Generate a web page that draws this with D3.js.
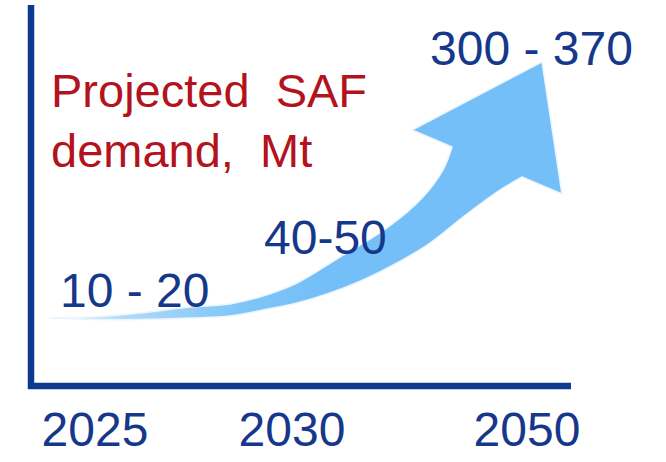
<!DOCTYPE html>
<html>
<head>
<meta charset="utf-8">
<script src="https://cdn.jsdelivr.net/npm/d3@7"></script>
<style>
  html, body { margin: 0; padding: 0; background: #ffffff; }
  svg { display: block; }
  text { font-family: "Liberation Sans", Arial, sans-serif; white-space: pre; }
</style>
</head>
<body>
<div id="chart"></div>
<script>
// ---- data ----
const years = ["2025", "2030", "2050"];
const yearValues = [2025, 2030, 2050];
const demandLabels = ["10 - 20", "40-50", "300 - 370"];
const demandLow = [10, 40, 300];
const demandHigh = [20, 50, 370];
const titleLines = ["Projected  SAF", "demand,  Mt"];

// ---- layout ----
const W = 666, H = 462;
const axisColor = "#0d3a8e";
const textNavy = "#16388a";
const titleRed = "#b3131d";

const svg = d3.select("#chart").append("svg")
  .attr("width", W).attr("height", H);

// year scale (uneven spacing as in the reference)
const x = d3.scaleLinear().domain(yearValues).range([95, 292, 527]);
// label scale for demand midpoints
const mids = demandLow.map((d, i) => (d + demandHigh[i]) / 2);
const yLab = d3.scaleLinear().domain(mids).range([307, 254, 65]);
const labOffset = d3.scaleLinear().domain(yearValues).range([-35, -28, -97]);

// ---- arrow (decorative growth glyph) ----
const defs = svg.append("defs");
const grad = defs.append("linearGradient").attr("id", "arrowGrad")
  .attr("gradientUnits", "userSpaceOnUse")
  .attr("x1", 50).attr("y1", 0).attr("x2", 320).attr("y2", 0);
grad.append("stop").attr("offset", 0).attr("stop-color", "#e3f1fd");
grad.append("stop").attr("offset", 0.3).attr("stop-color", "#acd8fa");
grad.append("stop").attr("offset", 0.7).attr("stop-color", "#80c5f8");
grad.append("stop").attr("offset", 1).attr("stop-color", "#74bff8");

// shape template of the curved arrow (edges of shaft + head)
const shaftUpper = [[50, 318], [100, 316.5], [140, 313], [190, 307], [230, 304], [263, 296], [297, 283], [340, 257], [387, 228], [423, 197], [443, 170], [452, 147]];
const shaftLower = [[522, 177], [497, 192], [463, 217], [430, 243], [397, 263], [363, 280], [330, 293], [297, 303], [263, 310], [230, 316], [190, 318], [140, 319.5], [100, 319.5], [50, 318]];
const headBase = [487, 162];
const tEnd = [0.393, -0.92];           // head axis
const nE = [-tEnd[1], tEnd[0]];        // head base normal
const barbHalf = 81.5, headLen = 113.6, skew = 11.3;
const head = [
  [headBase[0] - nE[0] * barbHalf, headBase[1] - nE[1] * barbHalf],
  [headBase[0] + tEnd[0] * headLen + nE[0] * skew, headBase[1] + tEnd[1] * headLen + nE[1] * skew],
  [headBase[0] + nE[0] * barbHalf, headBase[1] + nE[1] * barbHalf]
];
const edge = d3.line().curve(d3.curveCatmullRom.alpha(0.5));
const dUpper = edge(shaftUpper);
const dLower = edge(shaftLower).replace(/^M/, "L");
const dHead = head.map(p => "L" + p[0] + "," + p[1]).join("");
svg.append("path")
  .attr("d", dUpper + dHead + dLower + "Z")
  .attr("fill", "url(#arrowGrad)")
  .attr("stroke", "#eaf5fe").attr("stroke-width", 1.5).attr("stroke-linejoin", "round");

// ---- axes ----
svg.append("line").attr("x1", 31).attr("y1", 5).attr("x2", 31).attr("y2", 389)
  .attr("stroke", axisColor).attr("stroke-width", 6.5);
svg.append("line").attr("x1", 28).attr("y1", 386).attr("x2", 571).attr("y2", 386)
  .attr("stroke", axisColor).attr("stroke-width", 6.5);

// year labels
svg.selectAll("text.year").data(years).join("text")
  .attr("class", "year")
  .attr("x", (d, i) => x(yearValues[i]))
  .attr("y", 446)
  .attr("text-anchor", "middle")
  .attr("font-size", 48)
  .attr("fill", textNavy)
  .text(d => d);

// demand labels
svg.selectAll("text.demand").data(demandLabels).join("text")
  .attr("class", "demand")
  .attr("x", (d, i) => x(yearValues[i]) + labOffset(yearValues[i]))
  .attr("y", (d, i) => yLab(mids[i]))
  .attr("font-size", 48)
  .attr("fill", textNavy)
  .text(d => d);

// title
svg.selectAll("text.title").data(titleLines).join("text")
  .attr("class", "title")
  .attr("x", 51)
  .attr("y", (d, i) => 107 + i * 60)
  .attr("font-size", 47)
  .attr("fill", titleRed)
  .text(d => d);
</script>
</body>
</html>
